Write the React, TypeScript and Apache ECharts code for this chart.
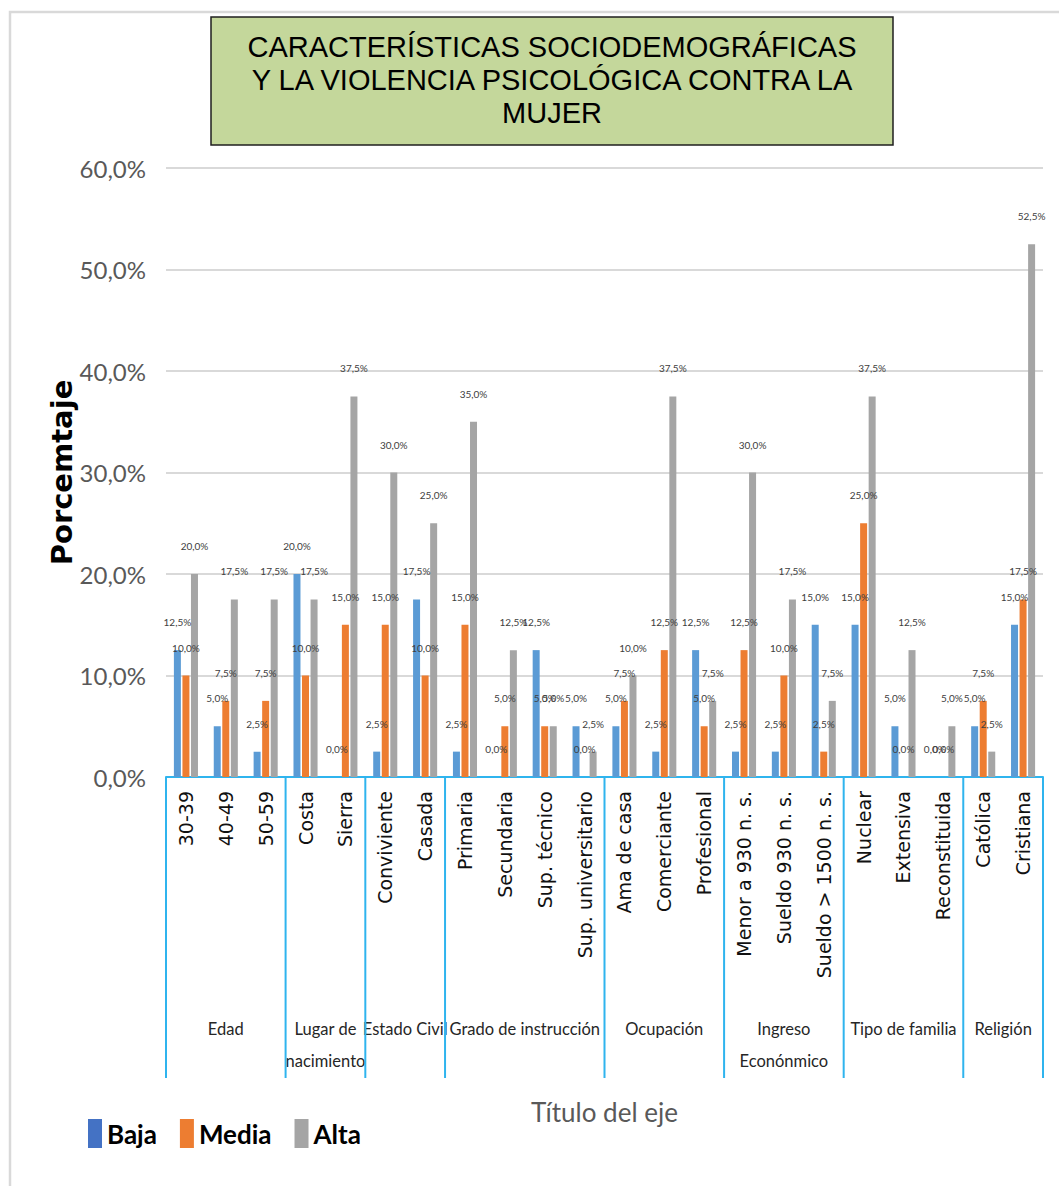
import React, { useEffect, useRef } from "react";
import * as echarts from "echarts";

const categories = [
  "30-39", "40-49", "50-59",
  "Costa", "Sierra",
  "Conviviente", "Casada",
  "Primaria", "Secundaria", "Sup. técnico", "Sup. universitario",
  "Ama de casa", "Comerciante", "Profesional",
  "Menor a 930 n. s.", "Sueldo 930 n. s.", "Sueldo > 1500 n. s.",
  "Nuclear", "Extensiva", "Reconstituida",
  "Católica", "Cristiana",
];
const groupNames = [
  "Edad", "Lugar de\nnacimiento", "Estado Civil", "Grado de instrucción",
  "Ocupación", "Ingreso\nEconónmico", "Tipo de familia", "Religión",
];
const groupSizes = [3, 2, 2, 4, 3, 3, 3, 2];

const baja = [12.5, 5, 2.5, 20, 0, 2.5, 17.5, 2.5, 0, 12.5, 5, 5, 2.5, 12.5, 2.5, 2.5, 15, 15, 5, 0, 5, 15];
const media = [10, 7.5, 7.5, 10, 15, 15, 10, 15, 5, 5, 0, 7.5, 12.5, 5, 12.5, 10, 2.5, 25, 0, 0, 7.5, 17.5];
const alta = [20, 17.5, 17.5, 17.5, 37.5, 30, 25, 35, 12.5, 5, 2.5, 10, 37.5, 7.5, 30, 17.5, 7.5, 37.5, 12.5, 5, 2.5, 52.5];

const seriesNames = ["Baja", "Media", "Alta"];
const seriesColors = ["#5B9BD5", "#ED7D31", "#A5A5A5"];
const titleLines = [
  "CARACTERÍSTICAS SOCIODEMOGRÁFICAS",
  "Y LA VIOLENCIA PSICOLÓGICA CONTRA LA",
  "MUJER",
];

const NARROW = "Lato, 'Liberation Sans', sans-serif";
const AXIS_BLUE = "#2FB4EE";

const pct = (v: number) => v.toFixed(1).replace(".", ",") + "%";

export default function App() {
  const ref = useRef<HTMLDivElement>(null);
  useEffect(() => {
    const el = ref.current!;
    const chart = echarts.init(el, null, { renderer: "svg" });
    const values = [baja, media, alta];
    chart.setOption({
      animation: false,
      backgroundColor: "#ffffff",
      grid: { left: 166, right: 16, top: 168, bottom: 409, containLabel: false },
      legend: {
        left: 88,
        top: 1119,
        padding: 0,
        icon: "rect",
        itemWidth: 14,
        itemHeight: 29,
        itemGap: 23,
        textStyle: { fontSize: 26, fontWeight: "bold", color: "#000", fontFamily: NARROW },
        data: [
          { name: "Baja", itemStyle: { color: "#4472C4" } },
          { name: "Media" },
          { name: "Alta" },
        ],
      },
      xAxis: {
        type: "category",
        data: categories,
        name: "Título del eje",
        nameLocation: "middle",
        nameGap: 322,
        nameMoveOverlap: false,
        nameTextStyle: { fontSize: 26, color: "#595959", fontFamily: NARROW },
        axisLine: { show: true, lineStyle: { color: AXIS_BLUE, width: 2 } },
        axisTick: { show: false },
        axisLabel: {
          rotate: 90,
          interval: 0,
          margin: 14,
          fontSize: 19,
          color: "#111",
          fontFamily: "'DejaVu Sans', sans-serif",
        },
      },
      yAxis: {
        type: "value",
        min: 0,
        max: 60,
        interval: 10,
        name: "Porcemtaje",
        nameLocation: "middle",
        nameGap: 90,
        nameMoveOverlap: false,
        nameTextStyle: { fontSize: 29, fontWeight: "bold", color: "#000", fontFamily: "'DejaVu Sans', sans-serif" },
        axisLine: { show: false },
        axisTick: { show: false },
        axisLabel: {
          formatter: (v: number) => pct(v),
          fontSize: 24,
          color: "#595959",
          margin: 20,
          fontFamily: NARROW,
        },
        splitLine: { lineStyle: { color: "#D9D9D9", width: 2 } },
      },
      series: seriesNames.map((name, i) => ({
        name,
        type: "bar",
        data: values[i],
        barWidth: 7,
        barGap: "22%",
        itemStyle: { color: seriesColors[i] },
        label: {
          show: true,
          position: "top",
          distance: 23,
          formatter: (p: any) => pct(p.value),
          fontSize: 10,
          color: "#404040",
          fontFamily: NARROW,
        },
      })),
    });

    const xs = categories.map((_, i) => chart.convertToPixel({ xAxisIndex: 0 }, i) as number);
    const band = xs.length > 1 ? xs[1] - xs[0] : 40;
    const y0 = chart.convertToPixel({ yAxisIndex: 0 }, 0) as number;
    const sepBottom = y0 + 301;

    const graphics: any[] = [];
    graphics.push({
      type: "rect",
      silent: true,
      shape: { x: 10, y: 12, width: 1200, height: 1400 },
      style: { fill: "none", stroke: "#D9D9D9", lineWidth: 2.5 },
    });
    graphics.push({
      type: "rect",
      silent: true,
      shape: { x: 211, y: 17, width: 682, height: 128 },
      style: { fill: "#C4D79B", stroke: "#1f1f1f", lineWidth: 1.5 },
    });
    graphics.push({
      type: "text",
      silent: true,
      style: {
        text: titleLines.join("\n"),
        x: 552,
        y: 30,
        align: "center",
        verticalAlign: "top",
        textAlign: "center",
        textVerticalAlign: "top",
        lineHeight: 33,
        fontSize: 29,
        fontFamily: "'Liberation Sans', Arial, sans-serif",
        fill: "#000",
      },
    });

    let start = 0;
    const bounds: number[] = [xs[0] - band / 2];
    groupSizes.forEach((size, gi) => {
      const left = xs[start] - band / 2;
      const right = xs[start + size - 1] + band / 2;
      bounds.push(right);
      graphics.push({
        type: "text",
        silent: true,
        style: {
          text: groupNames[gi],
          x: (left + right) / 2,
          y: y0 + 236,
          align: "center",
          verticalAlign: "top",
          textAlign: "center",
          textVerticalAlign: "top",
          lineHeight: 32,
          fontSize: 16.5,
          fontFamily: NARROW,
          fill: "#262626",
        },
      });
      start += size;
    });
    bounds.forEach((bx) => {
      graphics.push({
        type: "line",
        silent: true,
        shape: { x1: bx, y1: y0, x2: bx, y2: sepBottom },
        style: { stroke: AXIS_BLUE, lineWidth: 2 },
      });
    });

    chart.setOption({ graphic: graphics });
    return () => chart.dispose();
  }, []);

  return (
    <div
      ref={ref}
      style={{ position: "fixed", left: 0, top: 0, width: 1059, height: 1186, background: "#fff" }}
    />
  );
}
